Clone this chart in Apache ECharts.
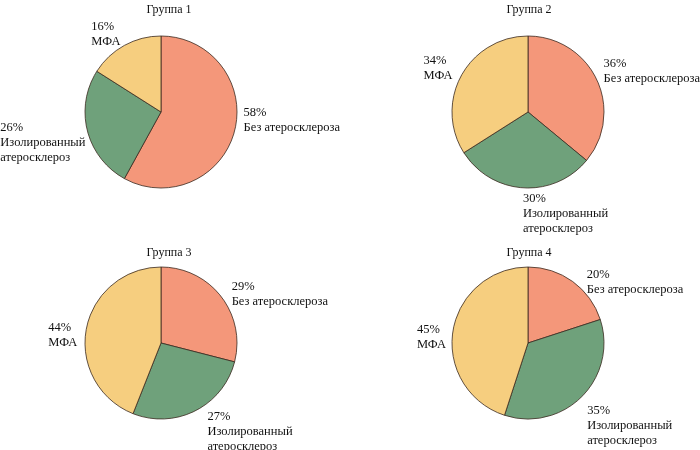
<!DOCTYPE html>
<html>
<head>
<meta charset="utf-8">
<script src="https://cdn.jsdelivr.net/npm/echarts@6/dist/echarts.min.js"></script>
<style>
  html, body { margin: 0; padding: 0; background: #fff; }
  #main { width: 700px; height: 450px; }
</style>
</head>
<body>
<div id="main"></div>
<script>
// категории (по часовой стрелке от 12 часов)
var categories = ['Без атеросклероза', 'Изолированный\nатеросклероз', 'МФА'];
var groupTitles = ['Группа 1', 'Группа 2', 'Группа 3', 'Группа 4'];
// доли, %
var group1 = [58, 26, 16];
var group2 = [36, 30, 34];
var group3 = [29, 27, 44];
var group4 = [20, 35, 45];

var colors = ['#F4977A', '#6FA17B', '#F6CE7F'];
var font = '"Liberation Serif", "DejaVu Serif", serif';

var chart = echarts.init(document.getElementById('main'));

var centers = [[161, 112], [528, 112], [161, 343], [528, 343]];
var titlePos = [[169, 4], [529, 4], [169, 247], [529, 247]];
var groups = [group1, group2, group3, group4];
// сдвиг подписей относительно стандартного положения [dx, dy]
var nudge = [
  [[3, -12], [4, 10], [1, -10]],
  [[1, -9], [89, 23], [-3, -7]],
  [[5, -2], [7, 18], [-3, 6]],
  [[9, 1], [0, 27], [-1, 5]]
];

var option = {
  animation: false,
  backgroundColor: '#fff',
  color: colors,
  title: groupTitles.map(function (t, i) {
    return {
      text: t,
      left: titlePos[i][0],
      top: titlePos[i][1],
      padding: 0,
      textAlign: 'center',
      textStyle: { fontFamily: font, fontSize: 12, fontWeight: 'normal', color: '#111' }
    };
  }),
  series: groups.map(function (vals, i) {
    return {
      type: 'pie',
      center: centers[i],
      radius: 76,
      startAngle: 90,
      clockwise: true,
      avoidLabelOverlap: false,
      itemStyle: { borderColor: '#3a2a20', borderWidth: 0.8 },
      label: {
        position: 'outside',
        distanceToLabelLine: 4,
        formatter: '{t|{c}%}\n{t|{b}}',
        color: '#111',
        fontFamily: font,
        fontSize: 12.5,
        rich: { t: { fontFamily: font, fontSize: 12.5, lineHeight: 15, color: '#111', align: 'left' } }
      },
      labelLine: { show: false, length: 2, length2: 0 },
      labelLayout: function (p) {
        var n = nudge[p.seriesIndex][p.dataIndex];
        return {
          x: p.labelRect.x + n[0],
          y: p.labelRect.y + n[1],
          align: 'left',
          verticalAlign: 'top'
        };
      },
      emphasis: { disabled: true },
      data: vals.map(function (v, k) {
        return { name: categories[k], value: v };
      })
    };
  })
};

chart.setOption(option);
</script>
</body>
</html>
